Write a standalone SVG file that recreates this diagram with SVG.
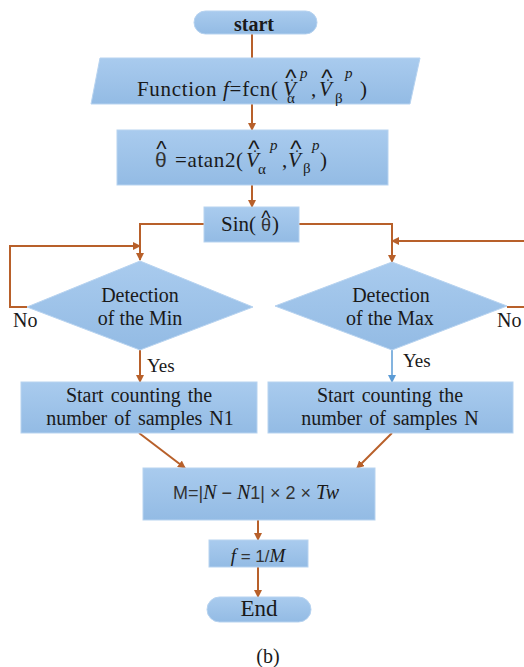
<svg xmlns="http://www.w3.org/2000/svg" width="524" height="667" viewBox="0 0 524 667">
<defs>
<linearGradient id="g" x1="0" y1="0" x2="0" y2="1">
<stop offset="0" stop-color="#a9cbee"/>
<stop offset="1" stop-color="#93bbe4"/>
</linearGradient>
<marker id="ab" markerWidth="8" markerHeight="8" refX="7" refY="4" orient="auto" markerUnits="userSpaceOnUse">
<path d="M0,0 L8,4 L0,8 Z" fill="#b8602a"/>
</marker>
<marker id="abl" markerWidth="8" markerHeight="8" refX="7" refY="4" orient="auto" markerUnits="userSpaceOnUse">
<path d="M0,0 L8,4 L0,8 Z" fill="#5b9bd5"/>
</marker>
<style>
.n{fill:url(#g);stroke:#b7d3f0;stroke-width:1}
.c{fill:none;stroke:#b8602a;stroke-width:2}
.t{font-family:"Liberation Serif","Times New Roman",serif;fill:#1a1a1a}
.s{font-family:"Liberation Sans",Arial,sans-serif;fill:#333}
.h{font-family:"Liberation Sans",Arial,sans-serif;fill:#1a1a1a;text-anchor:middle}
</style>
</defs>
<rect width="524" height="667" fill="#ffffff"/>
<g id="connectors">
<line class="c" x1="252" y1="33" x2="252" y2="58"/>
<line class="c" x1="252" y1="104" x2="252" y2="130" marker-end="url(#ab)"/>
<line class="c" x1="252" y1="185" x2="252" y2="207" marker-end="url(#ab)"/>
<polyline class="c" points="204,224 140,224 140,260" marker-end="url(#ab)"/>
<polyline class="c" points="27,307 10,307 10,246 140,246" marker-end="url(#ab)"/>
<polyline class="c" points="299,224 392,224 392,262" marker-end="url(#ab)"/>
<polyline class="c" points="507,307 524,307"/>
<polyline class="c" points="526,241 392,241" marker-end="url(#ab)"/>
<line class="c" x1="140" y1="350" x2="140" y2="382" marker-end="url(#ab)"/>
<line x1="392" y1="350" x2="392" y2="382" stroke="#5b9bd5" stroke-width="1.5" marker-end="url(#abl)"/>
<line class="c" x1="139" y1="433" x2="185" y2="468" marker-end="url(#ab)"/>
<line class="c" x1="392" y1="433" x2="357" y2="468" marker-end="url(#ab)"/>
<line class="c" x1="258" y1="520" x2="258" y2="540" marker-end="url(#ab)"/>
<line class="c" x1="258" y1="567" x2="258" y2="597" marker-end="url(#ab)"/>
</g>
<g id="start">
<rect class="n" x="194" y="11" width="123" height="23" rx="11.5"/>
<text class="t" x="254" y="31" font-size="20" font-weight="bold" text-anchor="middle">start</text>
</g>
<g id="function">
<polygon class="n" points="100,58 420,58 410,104 91,104"/>
<text class="t" x="137" y="96" font-size="21" textLength="141" lengthAdjust="spacing">Function <tspan font-style="italic">f</tspan>=fcn(</text>
<text class="t" x="283" y="96" font-size="21" font-style="italic">V</text>
<text class="t" x="292" y="81" font-size="14" text-anchor="middle">.</text>
<text class="h" x="291" y="86" font-size="24">^</text>
<text class="t" x="287" y="103" font-size="15">α</text>
<text class="t" x="300" y="78" font-size="15" font-style="italic">p</text>
<text class="t" x="311" y="96" font-size="21">,</text>
<text class="t" x="319" y="96" font-size="21" font-style="italic">V</text>
<text class="t" x="328" y="81" font-size="14" text-anchor="middle">.</text>
<text class="h" x="327" y="86" font-size="24">^</text>
<text class="t" x="335" y="103" font-size="15">β</text>
<text class="t" x="345" y="78" font-size="15" font-style="italic">p</text>
<text class="t" x="360" y="96" font-size="21">)</text>
</g>
<g id="atan">
<rect class="n" x="117" y="130" width="271" height="55"/>
<text class="s" x="155" y="167" font-size="21" fill="#1a1a1a">θ</text>
<text class="h" x="161.5" y="156" font-size="22">^</text>
<text class="t" x="175" y="167" font-size="21" textLength="68" lengthAdjust="spacing">=atan2(</text>
<text class="t" x="246" y="167" font-size="21" font-style="italic">V</text>
<text class="t" x="255" y="152" font-size="14" text-anchor="middle">.</text>
<text class="h" x="254" y="157" font-size="24">^</text>
<text class="t" x="258" y="174" font-size="15">α</text>
<text class="t" x="270" y="150" font-size="15" font-style="italic">p</text>
<text class="t" x="282" y="167" font-size="21">,</text>
<text class="t" x="288" y="167" font-size="21" font-style="italic">V</text>
<text class="t" x="297" y="152" font-size="14" text-anchor="middle">.</text>
<text class="h" x="296" y="157" font-size="24">^</text>
<text class="t" x="303" y="173" font-size="15">β</text>
<text class="t" x="312" y="150" font-size="15" font-style="italic">p</text>
<text class="t" x="320" y="167" font-size="21">)</text>
</g>
<g id="sin">
<rect class="n" x="204" y="207" width="95" height="35"/>
<text class="t" x="221" y="231" font-size="21">Sin(</text>
<text class="s" x="261" y="231" font-size="18" fill="#1a1a1a">θ</text>
<text class="h" x="266" y="225" font-size="20">^</text>
<text class="t" x="272" y="231" font-size="21">)</text>
</g>
<g id="min">
<polygon class="n" points="140,261 253,307 140,350 27,307"/>
<text class="t" x="140" y="302" font-size="20" text-anchor="middle">Detection</text>
<text class="t" x="140" y="325" font-size="20" text-anchor="middle">of the Min</text>
<text class="t" x="13" y="327" font-size="20">No</text>
<text class="t" x="147" y="372" font-size="19">Yes</text>
</g>
<g id="max">
<polygon class="n" points="392,262 507,306 392,350 275,306"/>
<text class="t" x="391" y="302" font-size="20" text-anchor="middle">Detection</text>
<text class="t" x="390" y="325" font-size="20" text-anchor="middle">of the Max</text>
<text class="t" x="497" y="327" font-size="20">No</text>
<text class="t" x="403" y="367" font-size="19">Yes</text>
</g>
<g id="countN1">
<rect class="n" x="21" y="382" width="236" height="51"/>
<text class="t" x="139" y="402" font-size="20" text-anchor="middle" word-spacing="2">Start counting  the</text>
<text class="t" x="140" y="425" font-size="20" text-anchor="middle" word-spacing="2">number of samples N1</text>
</g>
<g id="countN">
<rect class="n" x="268" y="382" width="245" height="51"/>
<text class="t" x="390" y="402" font-size="20" text-anchor="middle" word-spacing="2">Start counting  the</text>
<text class="t" x="390" y="425" font-size="20" text-anchor="middle" word-spacing="2">number of samples N</text>
</g>
<g id="mcalc">
<rect class="n" x="143" y="468" width="232" height="52"/>
<text class="s" x="256" y="499" font-size="18" text-anchor="middle">M=|<tspan class="t" font-style="italic" font-size="20">N</tspan> − <tspan class="t" font-style="italic" font-size="20">N</tspan>1| × 2 × <tspan class="t" font-style="italic" font-size="20">Tw</tspan></text>
</g>
<g id="freq">
<rect class="n" x="209" y="540" width="99" height="27"/>
<text class="s" x="258" y="562" font-size="17" text-anchor="middle"><tspan class="t" font-style="italic" font-size="19">f</tspan> = 1/<tspan class="t" font-style="italic" font-size="19">M</tspan></text>
</g>
<g id="end">
<rect class="n" x="207" y="597" width="104" height="25" rx="12.5"/>
<text class="t" x="259" y="616" font-size="23" text-anchor="middle">End</text>
</g>
<text class="t" x="268" y="663" font-size="20" text-anchor="middle">(b)</text>
</svg>
